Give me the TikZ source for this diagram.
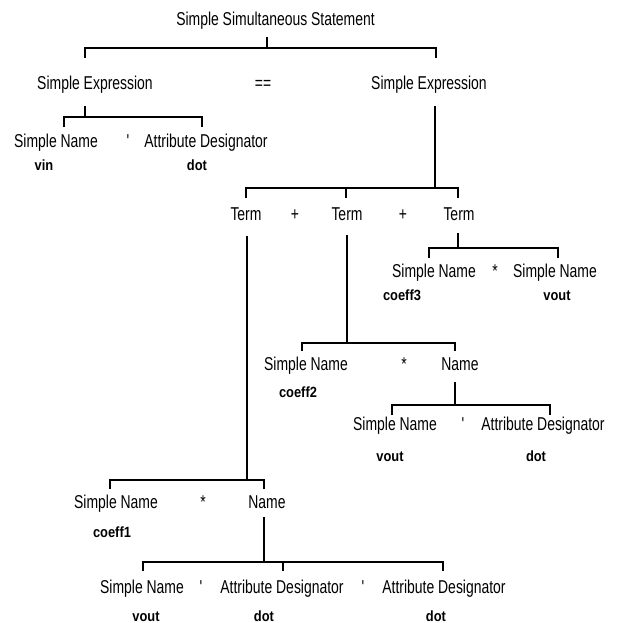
\documentclass[tikz,border=0pt]{standalone}
\usepackage{fontspec}
\newfontfamily\lsans{Liberation Sans}[Ligatures=TeXOff]
\tikzset{
  lbl/.style={font=\lsans\fontsize{18.6}{20}\selectfont, xscale=0.75, inner sep=0pt, anchor=base},
  val/.style={font=\lsans\bfseries\fontsize{14.8}{16}\selectfont, xscale=0.87, inner sep=0pt, anchor=base},
  edge/.style={line width=1.9pt, line join=miter, line cap=butt},
}
\begin{document}
\begin{tikzpicture}[x=1pt, y=-1pt]
\useasboundingbox (0,0) rectangle (616,623);
% ---------- labels ----------
\node[lbl] (sss) at (275.5,26) {Simple Simultaneous Statement};
\node[lbl] (se1) at (95,90) {Simple Expression};
\node[lbl] (eq) at (263,90) {==};
\node[lbl] (se2) at (429,90) {Simple Expression};
\node[lbl] (sn1) at (56,147) {Simple Name};
\node[lbl] (ap1) at (128,147) {'};
\node[lbl] (ad1) at (206,147) {Attribute Designator};
\node[val] (v1) at (44,170) {vin};
\node[val] (v2) at (197,170) {dot};
\node[lbl] (t1) at (246,220) {Term};
\node[lbl] (p1) at (295,220) {+};
\node[lbl] (t2) at (347,220) {Term};
\node[lbl] (p2) at (403,220) {+};
\node[lbl] (t3) at (459,220) {Term};
\node[lbl] (sn3a) at (434,277) {Simple Name};
\node[lbl] (st3) at (495,277) {*};
\node[lbl] (sn3b) at (555,277) {Simple Name};
\node[val] (c3) at (402,300) {coeff3};
\node[val] (vo3) at (557,300) {vout};
\node[lbl] (sn2) at (306,370) {Simple Name};
\node[lbl] (st2) at (404,370) {*};
\node[lbl] (nm2) at (460,370) {Name};
\node[val] (c2) at (298,397) {coeff2};
\node[lbl] (sn2b) at (395,430) {Simple Name};
\node[lbl] (ap2) at (463,430) {'};
\node[lbl] (ad2) at (543,430) {Attribute Designator};
\node[val] (vo2) at (390,461) {vout};
\node[val] (d2) at (536,461) {dot};
\node[lbl] (sn1c) at (116,508) {Simple Name};
\node[lbl] (st1) at (203,508) {*};
\node[lbl] (nm1) at (267,508) {Name};
\node[val] (c1) at (112,537) {coeff1};
\node[lbl] (sn1d) at (142,593) {Simple Name};
\node[lbl] (ap3) at (201,593) {'};
\node[lbl] (ad3) at (282,593) {Attribute Designator};
\node[lbl] (ap4) at (363,593) {'};
\node[lbl] (ad4) at (444,593) {Attribute Designator};
\node[val] (vo1) at (146,621) {vout};
\node[val] (d3) at (264,621) {dot};
\node[val] (d4) at (436,621) {dot};
% ---------- bracket coordinates ----------
% title
\coordinate (s1a) at (267,37);  \coordinate (s1b) at (267,48);
\coordinate (k1l) at (85,58);   \coordinate (k1r) at (436,58);
% left simple expression
\coordinate (s2a) at (85,106);  \coordinate (s2b) at (85,117);
\coordinate (k2l) at (64,127);  \coordinate (k2r) at (202,127);
% right simple expression
\coordinate (s3a) at (435,106); \coordinate (s3b) at (435,188);
\coordinate (k3l) at (246,198); \coordinate (k3m) at (346,198); \coordinate (k3r) at (458,198);
% term 3
\coordinate (s4a) at (458,233); \coordinate (s4b) at (458,248);
\coordinate (k4l) at (429,258); \coordinate (k4r) at (558,258);
% term 2
\coordinate (s5a) at (347,235); \coordinate (s5b) at (347,343);
\coordinate (k5l) at (302,351); \coordinate (k5r) at (455,351);
% name (coeff2)
\coordinate (s6a) at (455,382); \coordinate (s6b) at (455,405);
\coordinate (k6l) at (392,415); \coordinate (k6r) at (550,415);
% term 1
\coordinate (s7a) at (247,236); \coordinate (s7b) at (247,480);
\coordinate (k7l) at (110,489); \coordinate (k7r) at (264,489);
% name (coeff1)
\coordinate (s8a) at (264,517); \coordinate (s8b) at (264,562);
\coordinate (k8l) at (143,571); \coordinate (k8m) at (283,571); \coordinate (k8r) at (443,571);
% ---------- connectors ----------
\draw[edge] (s1a) -- (s1b);
\draw[edge] (k1l) |- (s1b) -| (k1r);
\draw[edge] (s2a) -- (s2b);
\draw[edge] (k2l) |- (s2b) -| (k2r);
\draw[edge] (s3a) -- (s3b);
\draw[edge] (k3l) |- (s3b) -| (k3r);
\draw[edge] (k3m) -- (k3m |- s3b);
\draw[edge] (s4a) -- (s4b);
\draw[edge] (k4l) |- (s4b) -| (k4r);
\draw[edge] (s5a) -- (s5b);
\draw[edge] (k5l) |- (s5b) -| (k5r);
\draw[edge] (s6a) -- (s6b);
\draw[edge] (k6l) |- (s6b) -| (k6r);
\draw[edge] (s7a) -- (s7b);
\draw[edge] (k7l) |- (s7b) -| (k7r);
\draw[edge] (s8a) -- (s8b);
\draw[edge] (k8l) |- (s8b) -| (k8r);
\draw[edge] (k8m) -- (k8m |- s8b);
\end{tikzpicture}
\end{document}
